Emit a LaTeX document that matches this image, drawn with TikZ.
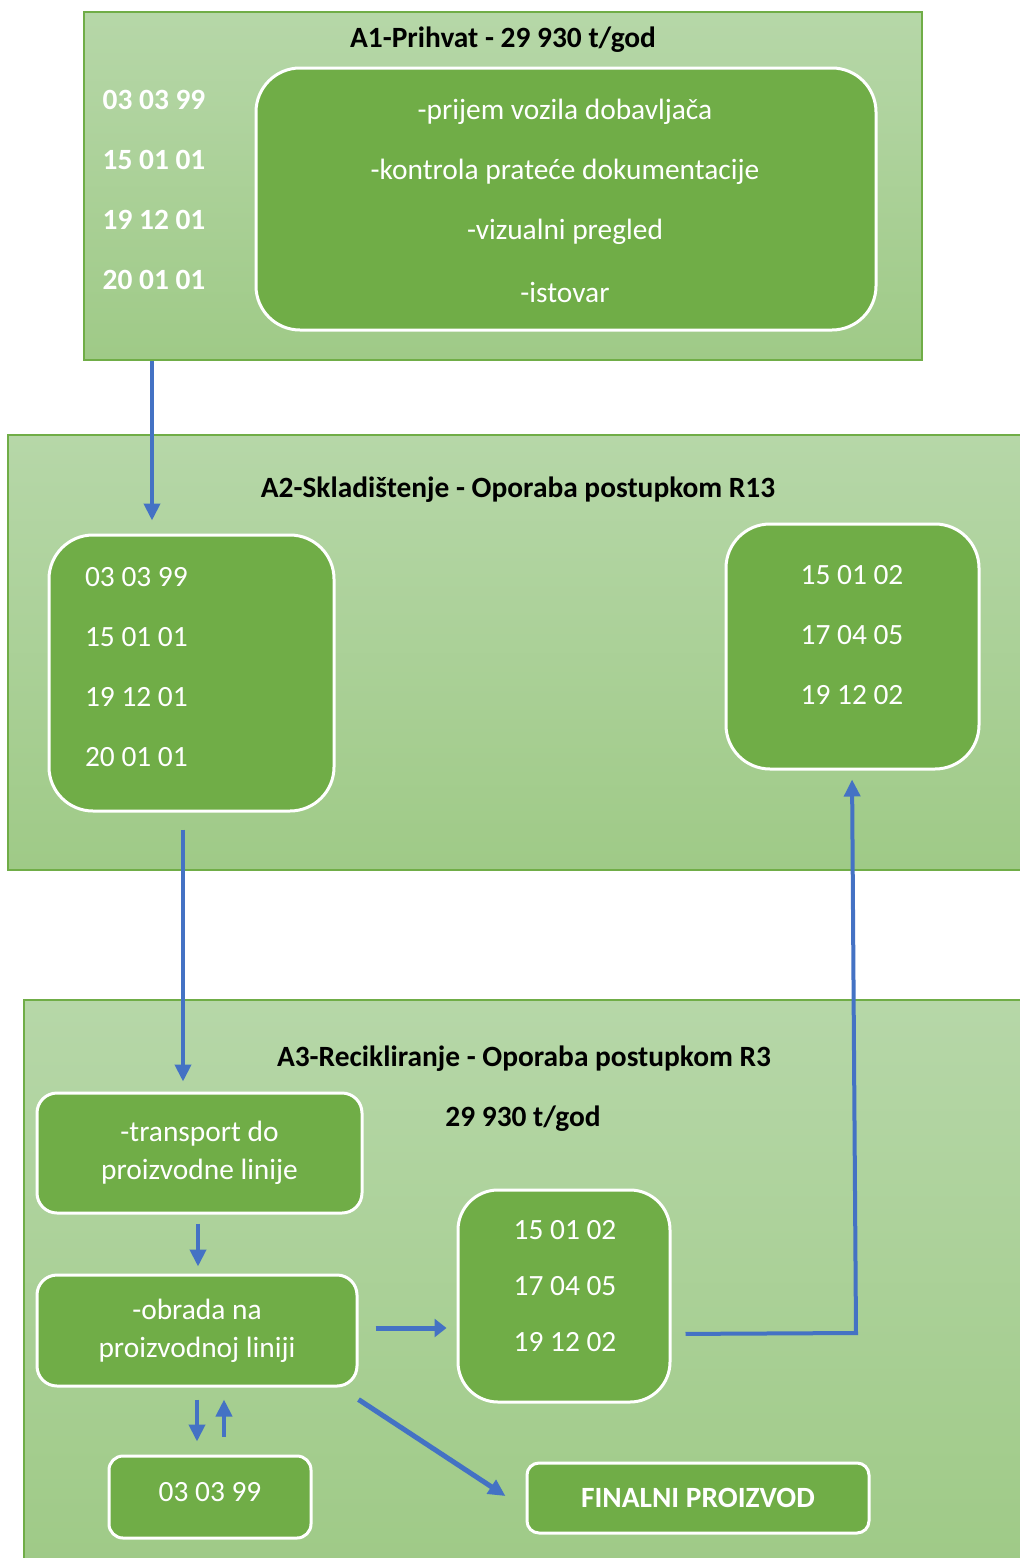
\documentclass[tikz,border=0pt]{standalone}
\usepackage{fontspec}
\setmainfont{Carlito}
\usetikzlibrary{arrows.meta,fit}
\definecolor{zonetop}{HTML}{B6D7A8}
\definecolor{zonebot}{HTML}{9FCA87}
\definecolor{zoneline}{HTML}{70AD47}
\definecolor{boxfill}{HTML}{70AD47}
\definecolor{flow}{HTML}{4472C4}

\begin{document}
\begin{tikzpicture}[x=0.5pt,y=-0.5pt,
  zone/.style={draw=zoneline,line width=1pt,top color=zonetop,bottom color=zonebot,inner sep=0pt},
  stage/.style={draw=white,line width=1.5pt,fill=boxfill,inner sep=0pt},
  title/.style={font=\fontsize{14.7}{16}\selectfont\bfseries},
  code/.style={text=white,font=\fontsize{14.7}{19}\selectfont},
  arr/.style={draw=flow,line width=2pt,-{Triangle[width=8pt,length=8.5pt]}}]
\useasboundingbox (0,0) rectangle (1019,1558);

\node[zone,fit={(84,12) (922,360)}] (A1) {};
\node[title] (A1t) at (503,40) {A1-Prihvat - 29 930 t/god};
\node[stage,rounded corners=22pt,fit={(256,68) (876,330)}] (A1ops) {};
\foreach \c [count=\i] in {03 03 99,15 01 01,19 12 01,20 01 01}
  \node[code,font=\fontsize{14.7}{16}\selectfont\bfseries] (a1c\i) at (154,40+60*\i) {\c};
\foreach \t [count=\i] in {-prijem vozila dobavljača,-kontrola prateće dokumentacije,-vizualni pregled,-istovar}
  \node[code] (a1o\i) at (565,52+60*\i) {\t};

\node[zone,fit={(8,435) (1026,870)}] (A2) {};
\node[title] (A2t) at (518,490) {A2-Skladištenje - Oporaba postupkom R13};
\node[stage,rounded corners=22pt,fit={(49,535) (334,811)}] (A2in) {};
\foreach \c [count=\i] in {03 03 99,15 01 01,19 12 01,20 01 01}
  \node[code,anchor=west] (a2i\i) at (78,517+60*\i) {\c};
\node[stage,rounded corners=22pt,fit={(726,524) (979,769)}] (A2out) {};
\foreach \c [count=\i] in {15 01 02,17 04 05,19 12 02}
  \node[code] (a2o\i) at (852,515+60*\i) {\c};

\node[zone,fit={(24,1000) (1026,1564)}] (A3) {};
\node[title] (A3t) at (524,1059) {A3-Recikliranje - Oporaba postupkom R3};
\node[title] (A3q) at (523,1119) {29 930 t/god};
\node[stage,rounded corners=10pt,fit={(37,1093) (362,1213)}] (trans) {};
\node[code,align=center] (transt) at (trans) {-transport do\\proizvodne linije};
\node[stage,rounded corners=10pt,fit={(37,1275) (357,1386)}] (obr) {};
\node[code,align=center] (obrt) at (obr) {-obrada na\\proizvodnoj liniji};
\node[stage,rounded corners=20pt,fit={(458,1190) (670,1402)}] (mid) {};
\foreach \c [count=\i] in {15 01 02,17 04 05,19 12 02}
  \node[code] (mid\i) at (565,1174+56*\i) {\c};
\node[stage,rounded corners=7pt,fit={(109,1456) (311,1538)}] (waste) {};
\node[code] (wastet) at (210,1492) {03 03 99};
\node[stage,rounded corners=6pt,fit={(527,1463) (869,1533)}] (fin) {};
\node[code,font=\fontsize{14.7}{16}\selectfont\bfseries] (fint) at (fin) {FINALNI PROIZVOD};

\draw[arr] (A1.south -| 152,0) -- (A2in.north -| 152,0) [shorten >=6.5pt];
\draw[arr] (A2in.south -| 183,0) -- (trans.north -| 183,0) [shorten <=8.5pt,shorten >=5pt];
\draw[arr] (trans.south -| 198,0) -- (obr.north -| 198,0) [shorten <=4.5pt,shorten >=3.5pt];
\draw[arr,line width=2.5pt,-{Triangle[width=9pt,length=6pt]}] (obr.east |- 0,1328) -- (mid.west |- 0,1328) [shorten <=8.5pt,shorten >=5pt];
\coordinate (turn) at (856,1333);
\draw[arr] (mid.east |- 0,1334) [shorten <=7pt] -- (turn) -- (A2out.south -| 852,0) [shorten >=4.5pt];
\draw[arr] (obr.south -| 197,0) -- (waste.north -| 197,0) [shorten <=6pt,shorten >=6.5pt];
\draw[arr] (waste.north -| 224,0) -- (obr.south -| 224,0) [shorten <=9pt,shorten >=6pt];
\draw[arr,line width=2.5pt] ([yshift=-6pt]obr.south east) -- ([xshift=-10pt,yshift=1pt]fin.west);
\end{tikzpicture}
\end{document}
